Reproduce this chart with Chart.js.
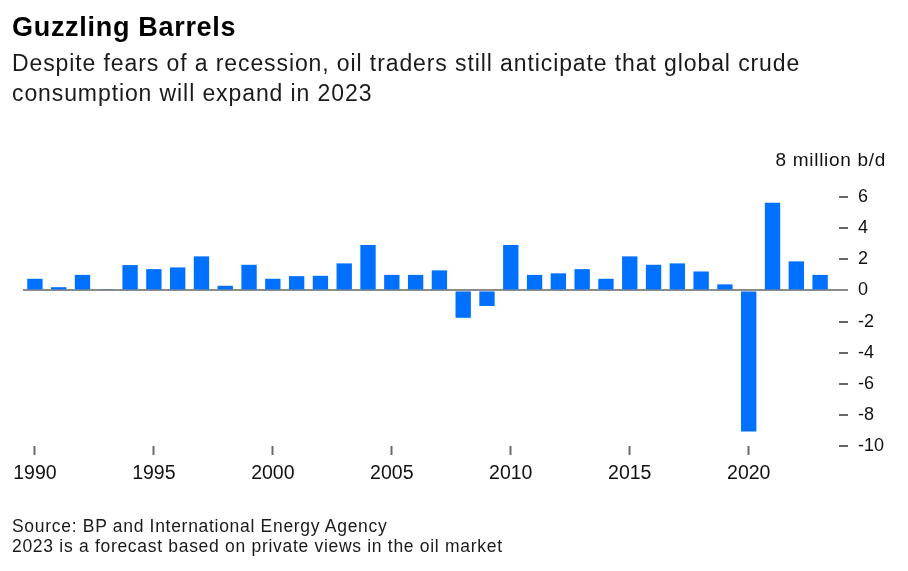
<!DOCTYPE html>
<html>
<head>
<meta charset="utf-8">
<script src="https://cdn.jsdelivr.net/npm/chart.js@4.4.0/dist/chart.umd.min.js"></script>
<style>
  body { margin: 0; background: #fff; font-family: "Liberation Sans", Arial, sans-serif; }
  #wrap { position: relative; width: 908px; height: 571px; overflow: hidden; }
  #chart { position: absolute; left: 0; top: 0; }
  .txt { position: absolute; left: 12px; color: #111; white-space: nowrap; }
  #title { top: 14px; font-size: 27px; line-height: 27px; font-weight: bold; color: #000; letter-spacing: 0.7px; }
  #sub { top: 47.5px; font-size: 23px; line-height: 30px; color: #1a1a1a; letter-spacing: 0.9px; }
  #unit { position: absolute; right: 22px; top: 149px; font-size: 19px; line-height: 22px; color: #111; letter-spacing: 0.7px; }
  #foot { top: 517px; font-size: 17.5px; line-height: 19.5px; color: #1a1a1a; letter-spacing: 0.7px; }
</style>
</head>
<body>
<div id="wrap">
  <canvas id="chart" width="908" height="571"></canvas>
  <div class="txt" id="title">Guzzling Barrels</div>
  <div class="txt" id="sub">Despite fears of a recession, oil traders still anticipate that global crude<br>consumption will expand in 2023</div>
  <div id="unit">8 million b/d</div>
  <div class="txt" id="foot">Source: BP and International Energy Agency<br>2023 is a forecast based on private views in the oil market</div>
</div>
<script>
// yearly change in global oil demand, million barrels a day
var years = ['1990', '1991', '1992', '1993', '1994', '1995', '1996', '1997', '1998', '1999',
             '2000', '2001', '2002', '2003', '2004', '2005', '2006', '2007', '2008', '2009',
             '2010', '2011', '2012', '2013', '2014', '2015', '2016', '2017', '2018', '2019',
             '2020', '2021', '2022', '2023'];
var demandChange = [0.75, 0.21, 1.0, 0.05, 1.63, 1.37, 1.48, 2.19, 0.3, 1.65,
                    0.75, 0.92, 0.94, 1.74, 2.92, 1.0, 1.0, 1.29, -1.76, -1.0,
                    2.92, 1.0, 1.1, 1.37, 0.75, 2.19, 1.65, 1.74, 1.22, 0.39,
                    -9.07, 5.64, 1.87, 1.0];
var yMin = -10, yMax = 8, yStep = 2;

Chart.defaults.font.family = '"Liberation Sans", Arial, sans-serif';
Chart.defaults.color = '#111';

var ctx = document.getElementById('chart');
var chart = new Chart(ctx, {
  type: 'bar',
  data: {
    labels: years,
    datasets: [{
      label: 'Change in demand',
      data: demandChange,
      backgroundColor: '#0071ff',
      borderWidth: 0,
      barPercentage: 0.645,
      categoryPercentage: 1.0
    }]
  },
  options: {
    responsive: false,
    animation: false,
    layout: { padding: { left: 23, top: 166, right: 16, bottom: 85 } },
    plugins: { legend: { display: false }, tooltip: { enabled: false } },
    scales: {
      x: {
        border: { display: false },
        grid: {
          drawOnChartArea: false,
          offset: false,
          tickLength: 9,
          tickWidth: 2,
          tickColor: function(c) { return c.index % 5 === 0 ? '#6b6b6b' : 'rgba(0,0,0,0)'; }
        },
        ticks: {
          autoSkip: false,
          maxRotation: 0,
          padding: 7,
          font: { size: 19.5 },
          callback: function(v, i) { return i % 5 === 0 ? years[i] : ''; }
        },
        afterFit: function(s) { s.height = 40; }
      },
      y: {
        position: 'right',
        min: yMin,
        max: yMax,
        border: { display: false },
        grid: {
          lineWidth: 2,
          tickLength: 16,
          tickWidth: 2,
          color: function(c) { return c.tick && c.tick.value === 0 ? '#8c8c8c' : 'rgba(0,0,0,0)'; },
          tickColor: function(c) {
            if (c.tick && c.tick.value === yMax) return 'rgba(0,0,0,0)';
            return c.tick && c.tick.value === 0 ? '#8c8c8c' : '#666';
          },
          tickBorderDash: function(c) { return c.tick && c.tick.value === 0 ? [] : [0, 7, 9, 100]; }
        },
        ticks: {
          stepSize: yStep,
          padding: 10,
          font: { size: 18 },
          callback: function(v) { return v === yMax ? '' : v; }
        },
        afterFit: function(s) { s.width = 60; }
      }
    }
  }
});
</script>
</body>
</html>
